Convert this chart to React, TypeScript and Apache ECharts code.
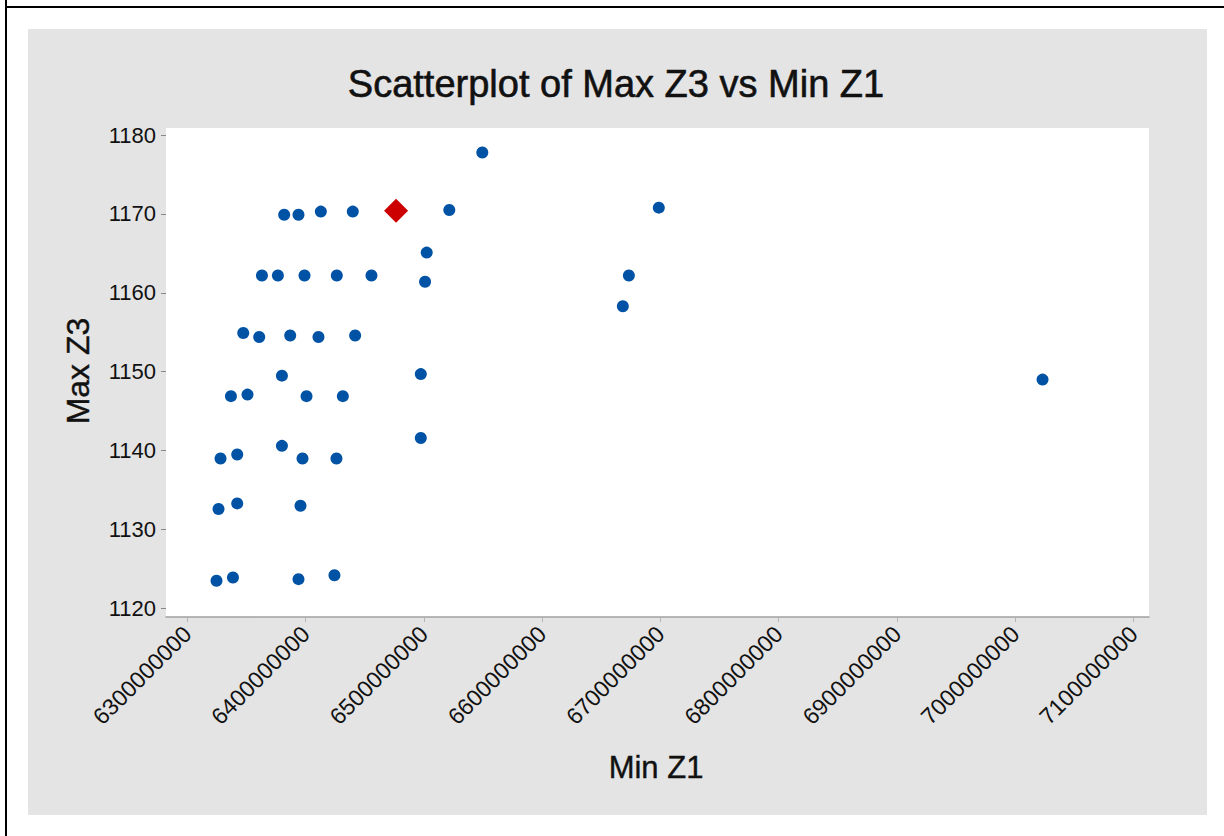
import React, { useEffect, useRef } from "react";
import * as echarts from "echarts";

const minZ1 = [
  6549400000, 6381900000, 6394000000, 6412900000, 6439900000, 6521500000,
  6502400000, 6501000000, 6363100000, 6376600000, 6399100000, 6426400000,
  6455700000, 6347300000, 6360800000, 6387000000, 6410900000, 6441900000,
  6380000000, 6497400000, 6336900000, 6350900000, 6400800000, 6431500000,
  6497400000, 6380000000, 6328100000, 6342200000, 6397400000, 6426100000,
  6326400000, 6342200000, 6395700000, 6324700000, 6338600000, 6394000000,
  6424400000, 6698600000, 6673300000, 6668200000, 7023000000,
];
const maxZ3 = [
  1177.8, 1169.9, 1169.9, 1170.3, 1170.3, 1170.5,
  1165.1, 1161.4, 1162.2, 1162.2, 1162.2, 1162.2,
  1162.2, 1154.9, 1154.4, 1154.6, 1154.4, 1154.6,
  1149.5, 1149.7, 1146.9, 1147.1, 1146.9, 1146.9,
  1141.6, 1140.6, 1139.0, 1139.5, 1139.0, 1139.0,
  1132.6, 1133.3, 1133.0, 1123.5, 1123.9, 1123.7,
  1124.2, 1170.8, 1162.2, 1158.3, 1149.0,
];
const highlightMinZ1 = [6476500000];
const highlightMaxZ3 = [1170.4];

const xTicks = [
  6300000000, 6400000000, 6500000000, 6600000000, 6700000000,
  6800000000, 6900000000, 7000000000, 7100000000,
];
const yTicks = [1120, 1130, 1140, 1150, 1160, 1170, 1180];

const FONT = "'Liberation Sans', Arial, sans-serif";

export default function App() {
  const ref = useRef<HTMLDivElement>(null);
  useEffect(() => {
    document.body.style.margin = "0";
    const chart = echarts.init(ref.current!, null, { renderer: "svg" });
    const points = minZ1.map((x, i) => [x, maxZ3[i]]);
    const hl = highlightMinZ1.map((x, i) => [x, highlightMaxZ3[i]]);
    chart.setOption({
      animation: false,
      backgroundColor: "#ffffff",
      graphic: [
        {
          type: "rect",
          z: -10,
          shape: { x: 28, y: 29, width: 1179, height: 786 },
          style: { fill: "#e4e4e4" },
        },
        {
          type: "line",
          shape: { x1: 6, y1: 0, x2: 6, y2: 836 },
          style: { stroke: "#000", lineWidth: 2 },
        },
        {
          type: "line",
          shape: { x1: 5, y1: 7, x2: 1224, y2: 7 },
          style: { stroke: "#000", lineWidth: 2 },
        },
        {
          type: "text",
          x: 616,
          y: 84,
          style: {
            text: "Scatterplot of Max Z3 vs Min Z1",
            font: `38px ${FONT}`,
            fill: "#111",
            stroke: "#111",
            lineWidth: 0.6,
            textAlign: "center",
            textVerticalAlign: "middle",
          },
        },
        {
          type: "text",
          x: 656,
          y: 767,
          style: {
            text: "Min Z1",
            font: `31px ${FONT}`,
            fill: "#111",
            stroke: "#111",
            lineWidth: 0.4,
            textAlign: "center",
            textVerticalAlign: "middle",
          },
        },
        {
          type: "text",
          x: 78,
          y: 371,
          rotation: Math.PI / 2,
          style: {
            text: "Max Z3",
            font: `32px ${FONT}`,
            fill: "#111",
            stroke: "#111",
            lineWidth: 0.4,
            textAlign: "center",
            textVerticalAlign: "middle",
          },
        },
      ],
      grid: {
        left: 166,
        top: 128,
        right: 75,
        bottom: 219,
        show: true,
        backgroundColor: "#ffffff",
        borderWidth: 0,
      },
      xAxis: {
        type: "value",
        min: 6282000000,
        max: 7113000000,
        splitLine: { show: false },
        axisLine: { show: true, lineStyle: { color: "#a0a0a0", width: 1.5 } },
        axisTick: {
          show: true,
          customValues: xTicks,
          length: 5,
          lineStyle: { color: "#b4b4b4" },
        },
        axisLabel: {
          customValues: xTicks,
          rotate: 45,
          margin: 13,
          fontSize: 23,
          fontFamily: FONT,
          color: "#111",
          formatter: (v: number) => String(v),
        },
      },
      yAxis: {
        type: "value",
        min: 1118.9,
        max: 1180.9,
        splitLine: { show: false },
        axisLine: { show: false },
        axisTick: {
          show: true,
          customValues: yTicks,
          length: 5,
          lineStyle: { color: "#888888" },
        },
        axisLabel: {
          customValues: yTicks,
          margin: 10,
          fontSize: 22,
          fontFamily: FONT,
          color: "#111",
          formatter: (v: number) => String(v),
        },
      },
      series: [
        {
          type: "scatter",
          data: points,
          symbol: "circle",
          symbolSize: 12,
          itemStyle: { color: "#0052a5", opacity: 1 },
        },
        {
          type: "scatter",
          data: hl,
          symbol: "diamond",
          symbolSize: [24, 24],
          itemStyle: { color: "#cc0000", opacity: 1 },
        },
      ],
    });
    return () => chart.dispose();
  }, []);
  return <div ref={ref} style={{ width: 1224, height: 836 }} />;
}
